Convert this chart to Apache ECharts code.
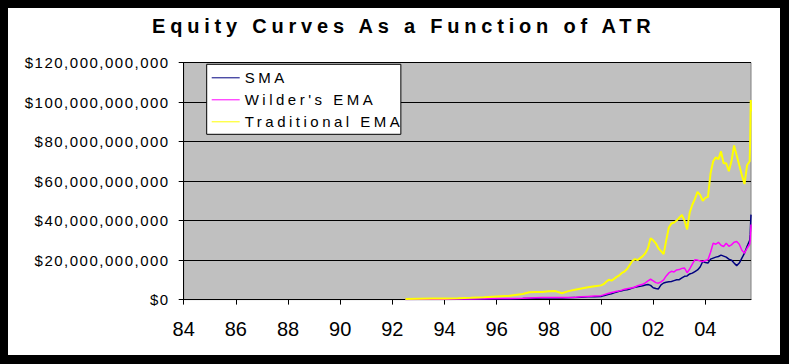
<!DOCTYPE html>
<html>
<head>
<meta charset="utf-8">
<script src="https://cdn.jsdelivr.net/npm/echarts@6/dist/echarts.min.js"></script>
<style>
html,body{margin:0;padding:0;background:#000;width:789px;height:364px;overflow:hidden;}
#chart{position:absolute;left:8px;top:8px;width:772px;height:347px;background:#fff;}
</style>
</head>
<body>
<div id="chart"></div>
<script>
const chartTitle = 'Equity Curves As a Function of ATR';
const seriesNames = ['SMA', "Wilder's EMA", 'Traditional EMA'];
const seriesColors = ['#000080', '#FF00FF', '#FFFF00'];

// decimal years
const dates = [
  1992.5, 1993, 1993.5, 1994, 1994.5, 1995, 1995.5, 1996, 1996.5, 1997,
  1997.25, 1997.5, 1997.75, 1998, 1998.25, 1998.5, 1998.75, 1999, 1999.25, 1999.5, 1999.75,
  2000.0, 2000.1, 2000.2, 2000.3, 2000.4, 2000.5, 2000.6, 2000.7, 2000.8, 2000.9,
  2001.0, 2001.1, 2001.2, 2001.3, 2001.4, 2001.5, 2001.6, 2001.7, 2001.8, 2001.9,
  2002.0, 2002.1, 2002.2, 2002.3, 2002.4, 2002.5, 2002.6, 2002.7, 2002.8, 2002.9,
  2003.0, 2003.1, 2003.2, 2003.3, 2003.4, 2003.5, 2003.6, 2003.7, 2003.8, 2003.9,
  2004.0, 2004.1, 2004.2, 2004.3, 2004.4, 2004.5, 2004.6, 2004.7, 2004.8, 2004.9,
  2005.0, 2005.1, 2005.2, 2005.3, 2005.4, 2005.5, 2005.6, 2005.7,
  2005.72, 2005.74, 2005.75
];

// equity in billions of dollars
const sma = [
  0.05, 0.06, 0.08, 0.1, 0.12, 0.15, 0.2, 0.25, 0.35, 0.5,
  0.6, 0.7, 0.8, 0.8, 0.9, 0.8, 0.9, 1.0, 1.2, 1.4, 1.5,
  1.6, 2.0, 2.3, 2.7, 3.0, 3.4, 3.8, 4.2, 4.5, 4.8,
  5.0, 5.4, 5.8, 6.2, 6.5, 6.7, 7.0, 7.4, 7.6, 7.2,
  6.0, 5.6, 5.4, 7.5, 8.4, 8.8, 9.0, 9.2, 9.6, 10.0,
  10.1, 11.0, 11.8, 12.0, 13.0, 13.4, 14.2, 15.0, 16.5, 19.3,
  18.8, 18.5, 20.5, 21.0, 21.5, 21.8, 22.5, 22.0, 21.5, 20.5,
  20.0, 18.5, 17.2, 18.5, 21.0, 23.5, 27.0, 30.0,
  33, 40, 43
];
const wilder = [
  0.1, 0.12, 0.15, 0.2, 0.3, 0.35, 0.4, 0.5, 0.6, 0.7,
  0.8, 0.9, 1.0, 1.0, 1.1, 1.0, 1.1, 1.2, 1.4, 1.6, 1.8,
  2.0, 2.4, 2.8, 3.2, 3.6, 3.9, 4.2, 4.4, 4.8, 5.2,
  5.5, 5.8, 6.0, 6.4, 7.0, 7.4, 7.8, 8.5, 9.5, 10.3,
  9.5, 8.6, 8.3, 9.0, 10.0, 12.0, 13.5, 14.3, 14.0, 15.0,
  15.2, 15.8, 16.0, 13.6, 15.5, 18.0, 20.2, 20.0, 19.5, 19.3,
  19.8, 20.2, 24.0, 28.6, 28.0, 29.0, 27.5, 26.9, 28.5, 27.0,
  27.7, 29.0, 29.4, 28.0, 25.0, 23.5, 26.0, 28.0,
  30, 35, 38
];
const traditional = [
  0.3, 0.4, 0.5, 0.6, 0.7, 0.9, 1.2, 1.6, 2.0, 2.8,
  3.7, 3.8, 3.9, 4.2, 4.3, 3.2, 4.3, 5.0, 5.6, 6.2, 6.8,
  7.2, 7.8, 9.0, 10.1, 9.6, 10.5, 11.5, 12.3, 13.5, 14.2,
  15.5, 17.5, 19.5, 20.5, 20.0, 21.0, 22.0, 23.5, 26.0, 31.0,
  30.0, 28.5, 26.0, 24.5, 23.0, 30.0, 36.5, 38.5, 39.0, 40.0,
  41.5, 42.8, 40.0, 35.5, 44.0, 48.0, 51.0, 54.5, 53.0, 50.0,
  51.5, 52.0, 64.0, 70.0, 72.0, 71.0, 75.0, 69.0, 69.0, 65.0,
  70.0, 78.0, 73.0, 68.0, 63.0, 58.5, 68.0, 70.0,
  82, 101, 95
];

const xTickYears = [1984, 1986, 1988, 1990, 1992, 1994, 1996, 1998, 2000, 2002, 2004];
const xTickLabels = ['84', '86', '88', '90', '92', '94', '96', '98', '00', '02', '04'];
const yTickValues = [0, 20, 40, 60, 80, 100, 120];
const yTickLabels = ['$0', '$20,000,000,000', '$40,000,000,000', '$60,000,000,000',
                     '$80,000,000,000', '$100,000,000,000', '$120,000,000,000'];

const FONT = "'Liberation Sans', Arial, sans-serif";
const seriesValues = [sma, wilder, traditional];
const lineWidths = [1.5, 1.5, 2];

const chart = echarts.init(document.getElementById('chart'), null, { renderer: 'svg' });

chart.setOption({
  animation: false,
  backgroundColor: '#ffffff',
  title: {
    text: chartTitle,
    left: 144,
    top: 8,
    padding: 0,
    textStyle: { fontFamily: FONT, fontSize: 20, fontWeight: 'bold', color: '#000' }
  },
  legend: {
    data: seriesNames,
    orient: 'vertical',
    left: 198.7,
    top: 56.3,
    icon: 'rect',
    itemWidth: 28,
    itemHeight: 1,
    itemGap: 7,
    padding: [6, 50, 5, 5],
    backgroundColor: '#ffffff',
    borderColor: '#000000',
    borderWidth: 1,
    borderRadius: 0,
    textStyle: { fontFamily: FONT, fontSize: 15, color: '#000' }
  },
  grid: {
    left: 175.7,
    right: 29,
    top: 54.5,
    bottom: 55.4,
    show: true,
    backgroundColor: '#C0C0C0',
    borderColor: '#808080',
    borderWidth: 1
  },
  xAxis: {
    type: 'value',
    min: 1984,
    max: 2005.75,
    interval: 2,
    axisLine: { show: true, onZero: false, lineStyle: { color: '#000', width: 1 } },
    axisTick: { show: true, length: 5, inside: false, customValues: xTickYears, lineStyle: { color: '#000' } },
    axisLabel: {
      customValues: xTickYears,
      margin: 19,
      fontFamily: FONT,
      fontSize: 20,
      color: '#000',
      formatter: function (v) {
        const i = xTickYears.indexOf(Math.round(v * 100) / 100);
        return i < 0 ? '' : xTickLabels[i];
      }
    },
    splitLine: { show: false }
  },
  yAxis: {
    type: 'value',
    min: 0,
    max: 120,
    interval: 20,
    axisLine: { show: true, lineStyle: { color: '#000', width: 1 } },
    axisTick: { show: true, length: 5, inside: false, lineStyle: { color: '#000' } },
    axisLabel: {
      margin: 14,
      fontFamily: FONT,
      fontSize: 15,
      color: '#000',
      formatter: function (v) {
        const i = yTickValues.indexOf(v);
        return i < 0 ? '' : yTickLabels[i];
      }
    },
    splitLine: { show: true, lineStyle: { color: '#000', width: 1 } }
  },
  series: seriesNames.map(function (name, k) {
    return {
      name: name,
      type: 'line',
      symbol: 'none',
      color: seriesColors[k],
      itemStyle: { color: seriesColors[k] },
      lineStyle: { color: seriesColors[k], width: lineWidths[k] },
      data: dates.map(function (d, i) { return [d, seriesValues[k][i]]; })
    };
  })
});

function applySpacing() {
  document.querySelectorAll('#chart svg text').forEach(function (t) {
    const s = t.textContent;
    if (s === chartTitle) t.setAttribute('letter-spacing', '4.8');
    else if (seriesNames.indexOf(s) >= 0) t.setAttribute('letter-spacing', '3.5');
    else if (s.charAt(0) === '$') t.setAttribute('letter-spacing', '1.5');
  });
}
chart.on('finished', applySpacing);
applySpacing();
</script>
</body>
</html>
